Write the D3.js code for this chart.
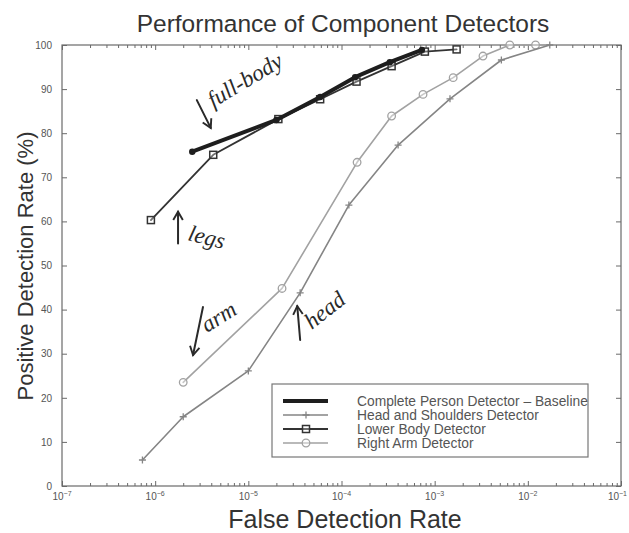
<!DOCTYPE html>
<html>
<head>
<meta charset="utf-8">
<script src="https://cdn.jsdelivr.net/npm/d3@7"></script>
<style>
  body { margin: 0; background: #fff; }
  svg { display: block; font-family: "Liberation Sans", Arial, sans-serif; }
</style>
</head>
<body>
<div class="chart"></div>
<script>
// 資料: false detection rate / positive detection rate (%)
const seriesNames = [
  "Complete Person Detector \u2013 Baseline",
  "Head and Shoulders Detector",
  "Lower Body Detector",
  "Right Arm Detector"
];
const completeFdr = [2.5e-6, 2.0e-5, 5.9e-5, 1.4e-4, 3.3e-4, 7.3e-4];
const completePdr = [75.8, 83.0, 88.2, 92.7, 96.1, 98.9];
const headFdr = [7.3e-7, 2.0e-6, 1.0e-5, 3.6e-5, 1.2e-4, 4.05e-4, 1.46e-3, 5.2e-3, 1.72e-2];
const headPdr = [5.9, 15.7, 26.1, 43.8, 63.7, 77.3, 87.8, 96.6, 100];
const lowerFdr = [9.0e-7, 4.2e-6, 2.1e-5, 5.9e-5, 1.45e-4, 3.45e-4, 7.85e-4, 1.72e-3];
const lowerPdr = [60.3, 75.1, 83.2, 87.7, 91.7, 95.2, 98.5, 99.0];
const armFdr = [2.0e-6, 2.3e-5, 1.47e-4, 3.45e-4, 7.5e-4, 1.58e-3, 3.3e-3, 6.4e-3, 1.21e-2];
const armPdr = [23.5, 44.8, 73.4, 83.9, 88.8, 92.6, 97.5, 100, 100];
const xTickExponents = [-7, -6, -5, -4, -3, -2, -1];
const yTicks = [0, 10, 20, 30, 40, 50, 60, 70, 80, 90, 100];

// 手寫註記 (data coords)
const notes = [
  { text: "full-body", x: 4.2e-6, y: 85.7, rot: -31, ax: [2.8e-6, 3.95e-6], ay: [87.5, 81.2] },
  { text: "legs", x: 2.2e-6, y: 55.8, rot: 14, ax: [1.76e-6, 1.76e-6], ay: [55.0, 62.2] },
  { text: "arm", x: 3.6e-6, y: 34.7, rot: -32, ax: [3.26e-6, 2.55e-6], ay: [40.6, 29.7] },
  { text: "head", x: 4.8e-5, y: 35.4, rot: -38, ax: [3.6e-5, 3.35e-5], ay: [33.1, 40.8] }
];

let canvas = {
  svg: {},
  x: {},
  y: {},
  config: {
    svgW: 629,
    svgH: 533,
    left: 62,
    right: 621,
    top: 45,
    bottom: 486,
    axisColor: "#6a6a6a",
    labelColor: "#555"
  },
  series: function () {
    return [
      { name: seriesNames[0], fdr: completeFdr, pdr: completePdr, color: "#1e1e1e", width: 4, marker: "dot" },
      { name: seriesNames[1], fdr: headFdr, pdr: headPdr, color: "#858585", width: 1.6, marker: "plus" },
      { name: seriesNames[2], fdr: lowerFdr, pdr: lowerPdr, color: "#333", width: 1.8, marker: "square" },
      { name: seriesNames[3], fdr: armFdr, pdr: armPdr, color: "#a2a2a2", width: 1.6, marker: "circle" }
    ];
  },
  init: function () {
    let c = this.config;
    this.svg = d3.select(".chart").append("svg")
      .attr("width", c.svgW)
      .attr("height", c.svgH);
    this.x = d3.scaleLog().domain([1e-7, 1e-1]).range([c.left, c.right]);
    this.y = d3.scaleLinear().domain([0, 100]).range([c.bottom, c.top]);
    this.axes();
    this.lines();
    this.legend();
    this.annotate();
  },
  axes: function () {
    let c = this.config, x = this.x, y = this.y, svg = this.svg;
    let minor = [];
    xTickExponents.slice(0, -1).forEach(function (e) {
      for (let m = 2; m <= 9; m++) minor.push(m * Math.pow(10, e));
    });
    let major = xTickExponents.map(function (e) { return Math.pow(10, e); });

    // 外框
    svg.append("rect")
      .attr("x", c.left).attr("y", c.top)
      .attr("width", c.right - c.left).attr("height", c.bottom - c.top)
      .attr("fill", "none").attr("stroke", c.axisColor).attr("stroke-width", 1.2);

    // 下方及上方刻度 (向內)
    [[d3.axisBottom, c.bottom, -5, -3], [d3.axisTop, c.top, -5, -3]].forEach(function (a) {
      svg.append("g").attr("transform", `translate(0,${a[1]})`)
        .call(a[0](x).tickValues(major).tickSize(a[2]).tickFormat(""))
        .call(function (g) { g.select(".domain").remove(); });
      svg.append("g").attr("transform", `translate(0,${a[1]})`)
        .call(a[0](x).tickValues(minor).tickSize(a[3]).tickFormat(""))
        .call(function (g) { g.select(".domain").remove(); });
    });
    svg.selectAll(".tick line").attr("stroke", c.axisColor);

    // x 軸標籤 10^n (最後一個靠右對齊, 免得被切掉)
    let last = xTickExponents[xTickExponents.length - 1];
    let xl = svg.append("g").selectAll("text").data(xTickExponents).enter()
      .append("text")
      .attr("x", function (d) { return d === last ? c.svgW - 2 : x(Math.pow(10, d)); })
      .attr("y", c.bottom + 14)
      .attr("text-anchor", function (d) { return d === last ? "end" : "middle"; })
      .attr("font-size", 10)
      .attr("fill", c.labelColor);
    xl.append("tspan").text("10");
    xl.append("tspan").attr("dy", -4).attr("font-size", 7)
      .text(function (d) { return "\u2212" + Math.abs(d); });

    // y 軸
    [[d3.axisLeft, c.left, -5], [d3.axisRight, c.right, -5]].forEach(function (a, i) {
      svg.append("g").attr("class", "yaxis" + i)
        .attr("transform", `translate(${a[1]},0)`)
        .call(a[0](y).tickValues(yTicks).tickSize(a[2]).tickPadding(i === 0 ? 10 : 0)
          .tickFormat(i === 0 ? d3.format("d") : ""))
        .call(function (g) { g.select(".domain").remove(); });
    });
    svg.selectAll(".yaxis0 .tick line, .yaxis1 .tick line").attr("stroke", c.axisColor);
    svg.selectAll(".yaxis0 text").attr("font-size", 10).attr("fill", c.labelColor)
      .attr("font-family", "Liberation Sans, Arial, sans-serif");

    // 標題與軸名稱
    svg.append("text")
      .attr("x", 343).attr("y", 32)
      .attr("text-anchor", "middle").attr("font-size", 24.5).attr("fill", "#333")
      .text("Performance of Component Detectors");
    svg.append("text")
      .attr("x", 345).attr("y", 528)
      .attr("text-anchor", "middle").attr("font-size", 25).attr("fill", "#333")
      .text("False Detection Rate");
    svg.append("text")
      .attr("transform", `translate(33,266) rotate(-90)`)
      .attr("text-anchor", "middle").attr("font-size", 22).attr("fill", "#333")
      .text("Positive Detection Rate (%)");
  },
  marker: function (g, type, color) {
    if (type === "dot") {
      g.append("circle").attr("r", 3.2).attr("fill", color);
    } else if (type === "square") {
      g.append("rect").attr("x", -3.5).attr("y", -3.5).attr("width", 7).attr("height", 7)
        .attr("fill", "#fff").attr("fill-opacity", 0.3).attr("stroke", color).attr("stroke-width", 1.5);
    } else if (type === "circle") {
      g.append("circle").attr("r", 3.8).attr("fill", "#fff").attr("fill-opacity", 0.4)
        .attr("stroke", color).attr("stroke-width", 1.3);
    } else {
      g.append("path").attr("d", "M-3.5,0H3.5M0,-3.5V3.5")
        .attr("stroke", color).attr("stroke-width", 1.3);
    }
  },
  lines: function () {
    let x = this.x, y = this.y, self = this;
    let line = d3.line()
      .x(function (d) { return x(d[0]); })
      .y(function (d) { return y(d[1]); });
    // 畫的順序: 淡色在下
    let order = [3, 1, 2, 0];
    let all = this.series();
    order.forEach(function (i) {
      let s = all[i];
      let pts = s.fdr.map(function (f, k) { return [f, s.pdr[k]]; });
      let g = self.svg.append("g").attr("class", "series");
      g.append("path")
        .attr("d", line(pts))
        .attr("fill", "none")
        .attr("stroke", s.color)
        .attr("stroke-width", s.width)
        .attr("stroke-linejoin", "round")
        .attr("stroke-linecap", "round");
      g.selectAll("g.pt").data(pts).enter().append("g")
        .attr("class", "pt")
        .attr("transform", function (d) { return `translate(${x(d[0])},${y(d[1])})`; })
        .each(function () { self.marker(d3.select(this), s.marker, s.color); });
    });
  },
  legend: function () {
    let self = this;
    let box = { x: 272, y: 384, w: 316, h: 73 };
    let lg = this.svg.append("g").attr("class", "legend");
    lg.append("rect")
      .attr("x", box.x).attr("y", box.y).attr("width", box.w).attr("height", box.h)
      .attr("fill", "#fff").attr("stroke", "#777").attr("stroke-width", 1.2);
    let rows = lg.selectAll("g.row").data(this.series()).enter().append("g")
      .attr("class", "row")
      .attr("transform", function (d, i) { return `translate(${box.x},${box.y + 17 + i * 14})`; });
    rows.append("line")
      .attr("x1", 11).attr("x2", 56)
      .attr("stroke", function (d) { return d.color; })
      .attr("stroke-width", function (d) { return d.width; });
    rows.each(function (d) {
      if (d.marker !== "dot") {
        let m = d3.select(this).append("g").attr("transform", "translate(34,0)");
        self.marker(m, d.marker, d.color);
      }
    });
    rows.append("text")
      .attr("x", 85).attr("y", 4.5)
      .attr("font-size", 13.8)
      .attr("fill", "#555")
      .text(function (d) { return d.name; });
  },
  annotate: function () {
    let x = this.x, y = this.y;
    let defs = this.svg.append("defs");
    defs.append("marker")
      .attr("id", "arrow")
      .attr("viewBox", "0 0 10 10")
      .attr("refX", 8).attr("refY", 5)
      .attr("markerWidth", 6).attr("markerHeight", 6)
      .attr("orient", "auto")
      .append("path")
      .attr("d", "M1,1 L8,5 L1,9")
      .attr("fill", "none").attr("stroke", "#2a2a2a").attr("stroke-width", 1.6);
    let g = this.svg.append("g").attr("class", "notes");
    notes.forEach(function (n) {
      g.append("line")
        .attr("x1", x(n.ax[0])).attr("y1", y(n.ay[0]))
        .attr("x2", x(n.ax[1])).attr("y2", y(n.ay[1]))
        .attr("stroke", "#2a2a2a").attr("stroke-width", 2)
        .attr("stroke-linecap", "round")
        .attr("marker-end", "url(#arrow)");
      g.append("text")
        .attr("transform", `translate(${x(n.x)},${y(n.y)}) rotate(${n.rot})`)
        .attr("font-family", "Liberation Serif, DejaVu Serif, serif")
        .attr("font-style", "italic")
        .attr("font-size", 23)
        .attr("fill", "#2a2a2a")
        .text(n.text);
    });
  }
};

canvas.init();
</script>
</body>
</html>
